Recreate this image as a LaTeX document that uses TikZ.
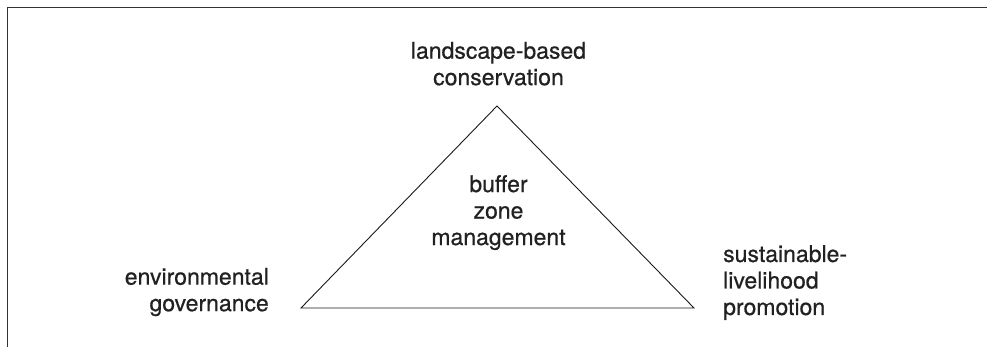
\documentclass[tikz,border=0pt]{standalone}
\usepackage{fontspec}
\setmainfont{TeX Gyre Heros}[FakeBold=0.6]
\begin{document}
\begin{tikzpicture}[x=1pt,y=-1pt,
  frameline/.style={draw=black!80, line width=1.5pt},
  tri/.style={draw=black!90, line width=0.9pt, line join=miter},
  lbl/.style={inner sep=0pt, text=black!87, font=\fontsize{23}{26.5}\selectfont}]
\useasboundingbox (0,0) rectangle (987,347);
\coordinate (fa) at (987,7.5);
\coordinate (fb) at (7.5,7.5);
\coordinate (fc) at (7.5,347);
\draw[frameline] (fa) -- (fb) -- (fc);
\coordinate (apex) at (497,106);
\coordinate (bl) at (301,308);
\coordinate (br) at (694,308);
\draw[tri] (apex) -- (bl) -- (br) -- cycle;
\node[lbl, anchor=north, align=center] (top) at (498.5,41.7) {landscape-based\\conservation};
\node[lbl, anchor=north, align=center] (mid) at (498.5,175) {buffer\\zone\\management};
\node[lbl, anchor=north east, align=right] (left) at (269,267.7) {environmental\\governance};
\node[lbl, anchor=north west, align=left] (right) at (723,245) {sustainable-\\livelihood\\promotion};
\end{tikzpicture}
\end{document}
